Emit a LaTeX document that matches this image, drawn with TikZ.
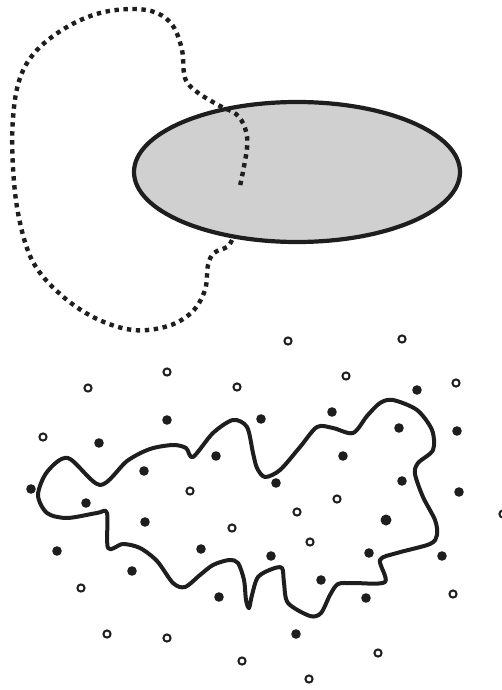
\documentclass[tikz,border=0pt]{standalone}
\usepackage{tikz}
\definecolor{regionbg}{HTML}{D0D0D0}
\definecolor{ink}{HTML}{1E1E1E}
\tikzset{
  region/.style={draw=ink,line width=4.2pt,fill=regionbg},
  loopline/.style={draw=ink,line width=4.4pt,dash pattern=on 4.4pt off 4.6pt},
  wiggle/.style={draw=ink,line width=4pt,line join=round},
  openpt/.style={draw=ink,line width=2pt,fill=white},
  fullpt/.style={fill=ink},
}
\begin{document}
\begin{tikzpicture}[x=1pt,y=-1pt]
  \useasboundingbox (0,0) rectangle (501,690);
  % --- top: shaded set and dotted loop ---
  \path[region] (297,172) ellipse [x radius=163pt,y radius=70pt];
  \draw[loopline] plot[smooth,tension=0.6] coordinates {
    (232,240) (227,247) (214,253) (208,265) (205,290) (192,312) (168,326)
    (133,330) (95,318) (60,294) (33,262) (19,218) (13,168) (13,118) (20,78)
    (37,50) (67,27) (100,13) (133,9) (157,13) (173,26) (182,50) (185,78)
    (197,92) (220,106) (236,114) (245,128) (247,148) (240,186)};
  % --- bottom: wiggly curve among the points ---
  \draw[wiggle] plot[smooth cycle,tension=0.5] coordinates {
    (38,495) (47,472) (68,458) (100,485) (127,461) (150,449) (173,445)
    (186,448) (193,457) (213,433) (233,420) (247,427) (253,453) (257,468)
    (265,477) (280,470) (300,447) (317,427) (333,428) (353,433) (367,416)
    (380,403) (393,400) (417,410) (432,430) (433,450) (418,463) (415,474)
    (423,497) (435,520) (437,535) (430,544) (397,553) (380,560) (385,582)
    (353,583) (338,584) (330,595) (321,613) (310,616) (288,603) (284,583)
    (282,568) (272,569) (258,577) (252,595) (249,608) (246,600) (244,580)
    (238,563) (229,560) (213,565) (200,575) (185,587) (173,583) (157,561)
    (140,548) (123,544) (108,548) (107,513) (97,513) (67,518) (47,513)};
  \foreach \x/\y in {167/420,99/443,144/471,216/456,31/489,86/503,145/522,
    201/549,57/551,132/571,219/597,261/419,332/412,417/390,399/428,457/431,
    343/456,276/483,402/481,459/492,271/556,369/553,442/556,321/580,
    366/598,296/634}
    \fill[fullpt] (\x,\y) circle (4.8pt);
  \fill[fullpt] (386,520) circle (5.5pt);
  \foreach \x/\y in {167/372,88/388,237/387,43/437,190/491,232/528,81/588,
    107/634,167/638,242/661,288/341,402/339,346/376,456/383,337/499,
    297/512,310/542,503/514,453/594,378/653,309/679}
    \path[openpt] (\x,\y) circle (3.6pt);
\end{tikzpicture}
\end{document}
